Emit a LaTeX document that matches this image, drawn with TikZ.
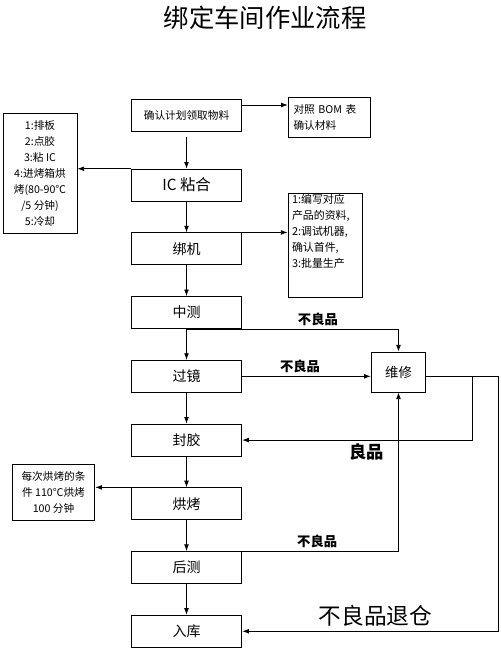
\documentclass[tikz,border=0pt]{standalone}
\usepackage{fontspec}
\setmainfont{Noto Sans CJK SC}
\usetikzlibrary{positioning}
\usetikzlibrary{arrows.meta}
\tikzset{flow/.style={draw, minimum width=83pt, minimum height=24pt, inner sep=0pt,
font=\fontsize{10.5}{12}\selectfont},
note/.style={draw, inner sep=0pt, align=center, font=\fontsize{8}{12}\selectfont},
bad/.style={font=\bfseries\fontsize{10}{12}\selectfont, inner sep=2pt}}

\begin{document}
\begin{tikzpicture}[x=0.75pt, y=-0.75pt, >={Latex[length=5pt,width=3.6pt]}, line width=0.6pt, node distance=23.2pt]
\useasboundingbox (0,0) rectangle (500,648);
\node[font=\fontsize{19}{20}\selectfont] (title) at (265,18) {绑定车间作业流程};
\node[flow, font=\fontsize{8}{10}\selectfont] (pick) at (186.5,115) {确认计划领取物料};
\node[flow, below=28pt of pick, font=\fontsize{11.5}{12}\selectfont] (ic) {IC 粘合};
\node[flow, below=of ic] (bang) {绑机};
\node[flow, below=of bang] (zhong) {中测};
\node[flow, below=of zhong] (guo) {过镜};
\node[flow, below=of guo] (feng) {封胶};
\node[flow, below=of feng] (hong) {烘烤};
\node[flow, below=of hong] (hou) {后测};
\node[flow, below=of hou] (ruku) {入库};
\node[note, align=left, text width=54pt, inner xsep=4pt, minimum height=30pt] (bom) at (329.5,117)
	{对照 BOM 表\\确认材料};
\node[note, minimum width=55.5pt, minimum height=90pt] (steps) at (40,173)
	{1:排板\\2:点胶\\3:粘 IC\\4:进烤箱烘\\烤(80-90℃\\/5 分钟)\\5:冷却};
\node[draw, inner xsep=3pt, inner ysep=0pt, font=\fontsize{8.2}{12}\selectfont] (setup) at (325,245)
	{\parbox[c][78pt][t]{49.5pt}{\raggedright\vspace{1pt}1:编写对应\\产品的资料,\\2:调试机器,\\确认首件,\\3:批量生产}};
\node[note, minimum width=62pt, minimum height=42pt] (cond) at (53.5,492)
	{每次烘烤的条\\件 110℃烘烤\\100 分钟};
\node[draw, minimum width=41pt, minimum height=30pt, font=\fontsize{10}{12}\selectfont] (fix) at (398.5,372) {维修};
\coordinate (out) at (guo.east -| fix.east);
\draw[->, shorten <=4.5pt] (pick) -- (ic);
\foreach \a/\b in {ic/bang, bang/zhong, zhong/guo, guo/feng, feng/hong, hong/hou, hou/ruku}
	\draw[->] (\a) -- (\b);
\draw[->] ([yshift=7.5pt]pick.east) -- ([yshift=7.5pt]pick.east -| bom.west);
\draw[->] (ic.north west) -- (ic.north west -| steps.east);
\draw[->] (bang.north east) -- (bang.north east -| setup.west);
\draw[->] (hong.north west) -- (hong.north west -| cond.east);
\draw[->] (zhong.south) -| (fix.north) node[bad, pos=0.31, above] {不良品};
\draw[->] (guo.east) -- (guo.east -| fix.west) node[bad, pos=0.45, above] {不良品};
\draw[->] (out) -- ++(46,0) |- (feng.east) node[bad, pos=0.73, below, font=\bfseries\fontsize{13}{14}\selectfont] {良品};
\draw[->] (out) -- ++(72,0) |- (ruku.east) node[pos=0.74, above, font=\fontsize{17}{18}\selectfont] {不良品退仓};
\draw[->] (hou.north east) -| (fix.south) node[bad, pos=0.24, above] {不良品};
\end{tikzpicture}
\end{document}
